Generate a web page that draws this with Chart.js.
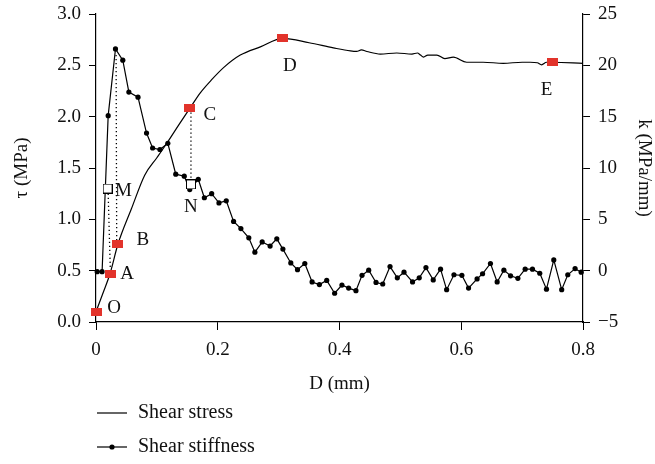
<!DOCTYPE html>
<html>
<head>
<meta charset="utf-8">
<script src="https://cdn.jsdelivr.net/npm/chart.js@4.4.1/dist/chart.umd.min.js"></script>
<style>
  html, body { margin: 0; padding: 0; background: #fff; }
  #wrap { width: 655px; height: 464px; }
</style>
</head>
<body>
<div id="wrap"><canvas id="shearChart" width="655" height="464"></canvas></div>
<script>
// Shear stress curve, tau (MPa) against D (mm)
const stressD = [0, 0.012, 0.023, 0.036, 0.058, 0.080, 0.100, 0.118, 0.136, 0.154, 0.171, 0.190, 0.210, 0.237, 0.270, 0.307,
  0.350, 0.390, 0.418, 0.428, 0.436, 0.445, 0.467, 0.494, 0.519, 0.528, 0.533, 0.538, 0.545, 0.560, 0.573, 0.587,
  0.609, 0.636, 0.669, 0.700, 0.713, 0.725, 0.732, 0.740, 0.750, 0.800];
const stressTau = [0.10, 0.29, 0.47, 0.757, 1.10, 1.43, 1.60, 1.756, 1.92, 2.08, 2.23, 2.36, 2.48, 2.60, 2.68, 2.763,
  2.72, 2.67, 2.64, 2.635, 2.65, 2.635, 2.61, 2.62, 2.61, 2.62, 2.60, 2.58, 2.60, 2.60, 2.565, 2.58,
  2.53, 2.53, 2.52, 2.53, 2.53, 2.525, 2.505, 2.53, 2.53, 2.52];

// Shear stiffness, k (MPa/mm) against D (mm)
const stiffD = [0.002, 0.010, 0.020, 0.032, 0.044, 0.054, 0.069, 0.083, 0.093, 0.105, 0.118, 0.131, 0.145, 0.154, 0.168,
  0.178, 0.190, 0.202, 0.214, 0.226, 0.238, 0.251, 0.261, 0.273, 0.286, 0.297, 0.307, 0.320, 0.331, 0.343, 0.355,
  0.367, 0.379, 0.392, 0.404, 0.415, 0.427, 0.437, 0.448, 0.460, 0.471, 0.483, 0.495, 0.506, 0.520, 0.531, 0.542,
  0.554, 0.566, 0.576, 0.588, 0.601, 0.612, 0.626, 0.635, 0.648, 0.659, 0.670, 0.681, 0.693, 0.705, 0.717, 0.729,
  0.740, 0.752, 0.765, 0.775, 0.787, 0.797];
const stiffK = [-0.1, -0.1, 15.1, 21.6, 20.5, 17.4, 16.9, 13.4, 11.95, 11.8, 12.4, 9.4, 9.2, 7.9, 8.9,
  7.1, 7.5, 6.6, 6.8, 4.8, 4.1, 3.2, 1.8, 2.8, 2.4, 3.1, 2.1, 0.75, 0.1, 0.7, -1.1,
  -1.35, -0.95, -2.2, -1.4, -1.7, -1.95, -0.45, 0.05, -1.15, -1.3, 0.4, -0.7, -0.15, -1.1, -0.7, 0.3,
  -0.9, 0.15, -1.85, -0.4, -0.45, -1.7, -0.8, -0.3, 0.7, -1.1, 0.05, -0.5, -0.75, 0.15, 0.15, -0.25,
  -1.8, 1.05, -1.85, -0.4, 0.2, -0.15];

// Characteristic points on the stress curve
const keyNames = ["O", "A", "B", "C", "D", "E"];
const keyD = [0, 0.023, 0.036, 0.154, 0.307, 0.750];
const keyTau = [0.10, 0.47, 0.757, 2.08, 2.763, 2.53];

// Points on the stiffness curve
const stiffMarkNames = ["M", "N"];
const stiffMarkD = [0.019, 0.156];
const stiffMarkK = [8.0, 8.4];

// Dotted guide lines (in stress units)
const guides = [
  { d: [0.033, 0.034], tau: [2.60, 0.78] },
  { d: [0.020, 0.0235], tau: [1.25, 0.51] },
  { d: [0.156, 0.156], tau: [2.04, 1.39] }
];

const xTicks = [0, 0.2, 0.4, 0.6, 0.8];
const serif = "'Liberation Serif', 'DejaVu Serif', serif";

function pts(xs, ys) { return xs.map((x, i) => ({ x: x, y: ys[i] })); }

function makeBox(w, h, fill, stroke) {
  const c = document.createElement("canvas");
  c.width = w; c.height = h;
  const g = c.getContext("2d");
  g.fillStyle = fill;
  g.fillRect(0, 0, w, h);
  if (stroke) {
    g.strokeStyle = stroke;
    g.lineWidth = 1;
    g.strokeRect(0.5, 0.5, w - 1, h - 1);
  }
  return c;
}
const redBox = makeBox(11, 8, "#e2332b");
const openBox = makeBox(10, 10, "#ffffff", "#000000");

// offsets for the point letters (pixels)
const keyOffsets = { O: [18, -4], A: [17, 0], B: [25, -4], C: [20, 7], D: [7, 28], E: [-6, 28] };
const markOffsets = { M: [16, 2], N: [0, 23] };

const labelPlugin = {
  id: "pointLabels",
  afterDatasetsDraw(chart) {
    const ctx = chart.ctx;
    const xs = chart.scales.x, ys = chart.scales.y, ks = chart.scales.y1;
    ctx.save();
    ctx.font = "19px " + serif;
    ctx.fillStyle = "#111";
    ctx.textAlign = "center";
    ctx.textBaseline = "middle";
    keyNames.forEach((n, i) => {
      const o = keyOffsets[n];
      ctx.fillText(n, xs.getPixelForValue(keyD[i]) + o[0], ys.getPixelForValue(keyTau[i]) + o[1]);
    });
    stiffMarkNames.forEach((n, i) => {
      const o = markOffsets[n];
      ctx.fillText(n, xs.getPixelForValue(stiffMarkD[i]) + o[0], ks.getPixelForValue(stiffMarkK[i]) + o[1]);
    });
    ctx.restore();
  },
  afterDraw(chart) {
    // legend under the chart
    const ctx = chart.ctx;
    ctx.save();
    ctx.strokeStyle = "#000";
    ctx.fillStyle = "#000";
    ctx.lineWidth = 1.2;
    ctx.beginPath(); ctx.moveTo(97, 413); ctx.lineTo(127, 413); ctx.stroke();
    ctx.beginPath(); ctx.moveTo(97, 447); ctx.lineTo(127, 447); ctx.stroke();
    ctx.beginPath(); ctx.arc(112, 447, 2.6, 0, Math.PI * 2); ctx.fill();
    ctx.font = "20px " + serif;
    ctx.fillStyle = "#111";
    ctx.textBaseline = "middle";
    ctx.fillText("Shear stress", 138, 413);
    ctx.fillText("Shear stiffness", 138, 447);
    ctx.restore();
  }
};

const datasets = [
  {
    label: "points",
    data: pts(keyD, keyTau),
    yAxisID: "y",
    pointStyle: redBox,
    showLine: false,
    clip: false,
    order: 0
  },
  {
    label: "marks",
    data: pts(stiffMarkD, stiffMarkK),
    yAxisID: "y1",
    pointStyle: openBox,
    showLine: false,
    clip: false,
    order: 0
  },
  {
    label: "Shear stress",
    data: pts(stressD, stressTau),
    yAxisID: "y",
    showLine: true,
    borderColor: "#000",
    borderWidth: 1.2,
    pointRadius: 0,
    cubicInterpolationMode: "monotone",
    order: 2
  },
  {
    label: "Shear stiffness",
    data: pts(stiffD, stiffK),
    yAxisID: "y1",
    showLine: true,
    borderColor: "#000",
    backgroundColor: "#000",
    borderWidth: 1.2,
    pointRadius: 2.6,
    pointBorderWidth: 0,
    clip: false,
    order: 1
  }
];
guides.forEach(g => datasets.push({
  label: "guide",
  data: pts(g.d, g.tau),
  yAxisID: "y",
  showLine: true,
  borderColor: "#000",
  borderWidth: 1.3,
  borderDash: [1.3, 2.7],
  pointRadius: 0,
  order: 3
}));

const tickFont = { family: serif, size: 19 };

new Chart(document.getElementById("shearChart"), {
  type: "scatter",
  data: { datasets: datasets },
  options: {
    responsive: false,
    animation: false,
    layout: { padding: { top: 14, bottom: 65, left: 0, right: 0 } },
    plugins: { legend: { display: false }, tooltip: { enabled: false } },
    scales: {
      x: {
        type: "linear",
        min: 0, max: 0.8,
        afterBuildTicks: s => { s.ticks = xTicks.map(v => ({ value: v })); },
        afterFit: s => { s.height = 77; s.paddingLeft = 0; s.paddingRight = 0; },
        grid: { drawOnChartArea: false, drawTicks: true, tickLength: 8, color: "#000" },
        border: { display: true, color: "#000", width: 1.2 },
        ticks: { color: "#111", font: tickFont, padding: 9, callback: v => String(v) },
        title: { display: true, text: "D (mm)", color: "#111", font: tickFont, padding: { top: 12 } }
      },
      y: {
        position: "left",
        min: 0, max: 3,
        afterFit: s => { s.width = 96; s.paddingTop = 0; s.paddingBottom = 0; },
        grid: { drawOnChartArea: false, drawTicks: true, tickLength: 7, color: "#000" },
        border: { display: true, color: "#000", width: 1.2 },
        ticks: { stepSize: 0.5, color: "#111", font: tickFont, padding: 8, callback: v => v.toFixed(1) },
        title: { display: true, text: "τ (MPa)", color: "#111", font: tickFont, padding: { top: 11, bottom: 0 } }
      },
      y1: {
        position: "right",
        min: -5, max: 25,
        afterFit: s => { s.width = 72; s.paddingTop = 0; s.paddingBottom = 0; },
        grid: { drawOnChartArea: false, drawTicks: true, tickLength: 7, color: "#000" },
        border: { display: true, color: "#000", width: 1.2 },
        ticks: { stepSize: 5, color: "#111", font: tickFont, padding: 8,
          callback: v => (v < 0 ? "\u2212" + Math.abs(v) : String(v)) },
        title: { display: true, text: "k (MPa/mm)", color: "#111", font: tickFont, padding: { top: 0, bottom: 4 } }
      }
    }
  },
  plugins: [labelPlugin]
});
</script>
</body>
</html>
